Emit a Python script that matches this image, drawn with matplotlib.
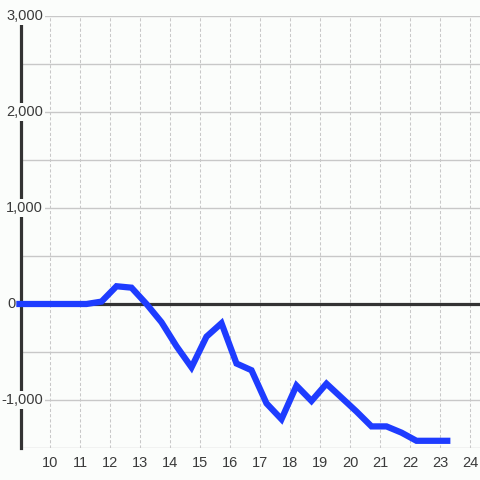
import matplotlib
matplotlib.use('Agg')
import matplotlib.pyplot as plt

# values
hours = [8.86, 11.2, 11.7, 12.2, 12.7, 13.2, 13.7, 14.2, 14.7, 15.2, 15.7,
         16.2, 16.7, 17.2, 17.7, 18.2, 18.7, 19.2, 19.7, 20.2, 20.7, 21.2,
         21.7, 22.2, 22.7, 23.33]
values = [0, 0, 25, 185, 170, 0, -190, -440, -660, -340, -200,
          -620, -690, -1035, -1200, -850, -1010, -830, -975, -1120, -1275, -1275,
          -1340, -1425, -1425, -1425]

x_ticks = list(range(10, 25))
y_grid = [-1500, -1000, -500, 0, 500, 1000, 1500, 2000, 2500, 3000]
y_labels = {3000: '3,000', 2000: '2,000', 1000: '1,000', 0: '0', -1000: '-1,000'}

bg = '#fbfdfb'
txt = '#3a3a3a'

plt.rcParams['font.family'] = ['Liberation Sans', 'DejaVu Sans']

fig = plt.figure(figsize=(4.8, 4.8), dpi=100, facecolor=bg)
ax = fig.add_axes([20.5 / 480, 32 / 480, 459.5 / 480, 432 / 480], facecolor=bg)

ax.set_xlim(9.0, 24.317)
ax.set_ylim(-1500, 3000)

# grid
for yv in y_grid:
    ax.axhline(yv, color='#c8c8c8', lw=1.0, zorder=1)
for xv in x_ticks:
    ax.axvline(xv, color='#c8c8c8', lw=0.75, ls=(0, (3, 2)), zorder=1)

# zero line
ax.axhline(0, color='#333333', lw=2.3, zorder=2)

# line
ax.plot(hours, values, color='#1e3cff', lw=4.5, solid_capstyle='butt',
        solid_joinstyle='miter', zorder=5, clip_on=False)

for s in ['top', 'right', 'bottom']:
    ax.spines[s].set_visible(False)
ax.spines['left'].set_color('#333333')
ax.spines['left'].set_linewidth(2.3)
ax.spines['left'].set_zorder(3)

ax.set_xticks(x_ticks)
ax.set_xticklabels([str(t) for t in x_ticks])
ax.tick_params(axis='x', length=0, pad=6, labelsize=10.5, labelcolor=txt)
ax.set_yticks([])

for yv, lab in y_labels.items():
    # the zero label sits left of the axis line in the reference
    xpos = -0.011 if yv == 0 else 0.049
    ax.text(xpos, yv, lab, transform=ax.get_yaxis_transform(), ha='right',
            va='center', fontsize=10.5, color=txt, zorder=4, clip_on=False,
            bbox=dict(boxstyle='square,pad=0.12', fc=bg, ec='none'))

fig.savefig('out.png', dpi=100, facecolor=bg)
